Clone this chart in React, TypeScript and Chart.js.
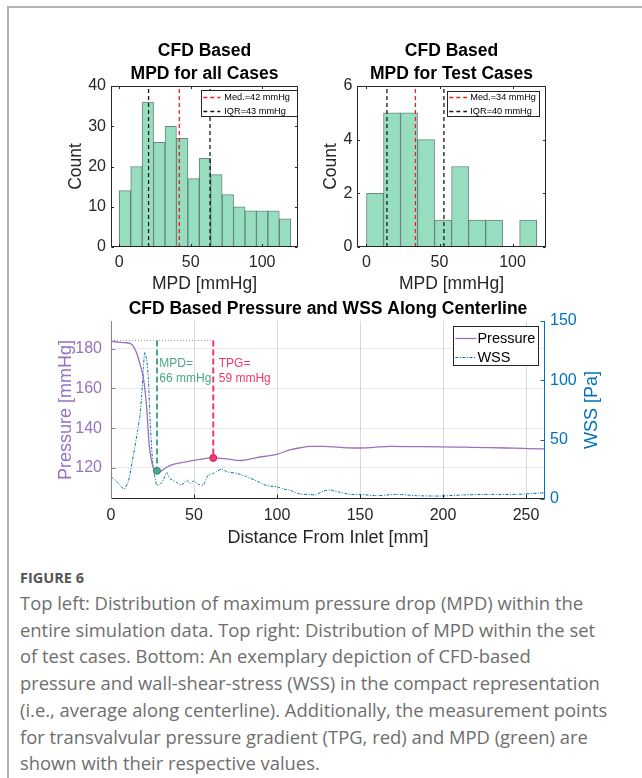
import React, { useEffect, useRef } from "react";
import { Chart, registerables } from "chart.js";

Chart.register(...registerables);

const FONT = "'Liberation Sans', Arial, Helvetica, sans-serif";
Chart.defaults.font.family = FONT;

// ---------- colours ----------
const AXIS_GRAY = "#262626";
const BAR_FILL = "rgb(151,222,192)";
const BAR_EDGE = "rgba(70,105,92,0.8)";
const MED_RED = "rgb(240,30,30)";
const IQR_BLACK = "#1a1a1a";
const PURPLE = "rgb(149,114,194)";
const BLUE = "rgb(0,114,189)";
const GREEN = "rgb(72,167,137)";
const GREEN_DARK = "rgb(50,135,110)";
const PINK = "rgb(240,57,110)";
const PINK_DARK = "rgb(205,35,85)";

// ---------- top-left histogram (all cases) ----------
const allTitle = ["CFD Based", "MPD for all Cases"];
const allBinCenters = [4, 12, 20, 28, 36, 44, 52, 60, 68, 76, 84, 92, 100, 108, 116];
const allCounts = [14, 20, 36, 26, 30, 27, 17, 22, 18, 13, 10, 9, 9, 9, 7];
const allMedian = 42;
const allIqr = [20.5, 63.5];
const allLegend = ["Med.=42 mmHg", "IQR=43 mmHg"];
const allXRange = [-5.8, 125.1];
const allXTicks = [0, 50, 100];
const allYTicks = [0, 10, 20, 30, 40];

// ---------- top-right histogram (test cases) ----------
const testTitle = ["CFD Based", "MPD for Test Cases"];
const testBinCenters = [5.83, 17.48, 29.13, 40.78, 52.43, 64.08, 75.73, 87.38, 99.03, 110.68];
const testCounts = [2, 5, 5, 4, 1, 3, 1, 1, 0, 1];
const testMedian = 33.5;
const testIqr = [14, 53];
const testLegend = ["Med.=34 mmHg", "IQR=40 mmHg"];
const testXRange = [-6.5, 122.9];
const testXTicks = [0, 50, 100];
const testYTicks = [0, 2, 4, 6];

const histXLabel = "MPD [mmHg]";
const histYLabel = "Count";

// ---------- bottom: pressure & WSS along centerline ----------
const lineTitle = "CFD Based Pressure and WSS Along Centerline";
const pressX = [0, 4, 8, 11.4, 13, 14.5, 16, 17.5, 19.5, 21.5, 23, 24.5, 26.5, 28, 29.5, 32.5, 36.5, 43.6, 51.6, 61.6, 69.7, 77.7, 87.8, 99.8, 107.8, 113.9, 119.9, 127.9, 138, 148, 158, 168, 183, 198, 213, 228, 243, 258, 261];
const pressY = [183.8, 183.4, 183.1, 182.7, 181.8, 179.6, 176.5, 172, 165.4, 150.2, 131.6, 123.2, 118.5, 118.2, 118.1, 119.8, 121.5, 122.8, 124, 125, 124.5, 123.7, 125.2, 126.8, 129.1, 130.1, 130.8, 130.8, 130.3, 130, 130.3, 130.8, 130.7, 130.6, 130.4, 130.2, 129.9, 129.6, 129.6];
const wssX = [0, 3.4, 7.8, 10.4, 13.5, 15.9, 17.5, 18.5, 19.5, 20.3, 21.5, 22.5, 23.5, 24.5, 25.5, 27.5, 29.5, 31.5, 33.5, 35.5, 39.6, 42.6, 45.6, 47.6, 49.6, 52.6, 55.6, 58.6, 61.6, 63.6, 66.6, 69.7, 75.7, 81.7, 87.8, 93.8, 99.8, 103.8, 107.8, 109.8, 113.9, 119.9, 122.9, 127.9, 132, 138, 144, 150, 160, 172, 184, 198, 212, 228, 244, 258, 261];
const wssY = [18.8, 14.6, 8.4, 14.6, 37, 56.7, 70.8, 87.7, 110, 123.7, 117, 102, 68, 43, 26, 11.8, 12.4, 16, 22.5, 17.2, 14, 11.8, 16, 13, 15.2, 12.4, 11.8, 20.2, 21.6, 23.1, 25.3, 23, 21.6, 18.8, 15.2, 11.2, 10.4, 8.4, 7.6, 6.2, 4.2, 3.9, 3.4, 6.7, 7.6, 5.6, 3.9, 3.9, 2.8, 3.9, 2.8, 2.5, 3.4, 3.9, 3.9, 5, 5.2];
const inletPressure = 184.2;
const mpdX = 27.7;
const mpdPressure = 118.5;
const tpgX = 61.6;
const tpgPressure = 125;
const mpdText = ["MPD=", "66 mmHg"];
const tpgText = ["TPG=", "59 mmHg"];
const lineSeriesNames = ["Pressure", "WSS"];
const lineXRange = [0, 261.4];
const lineXTicks = [0, 50, 100, 150, 200, 250];
const pressRange = [104.3, 194];
const pressTicks = [120, 140, 160, 180];
const wssRange = [0, 150];
const wssTicks = [0, 50, 100, 150];
const lineXLabel = "Distance From Inlet [mm]";
const pressLabel = "Pressure [mmHg]";
const wssLabel = "WSS [Pa]";

const captionHead = "FIGURE 6";
const captionLines = [
  "Top left: Distribution of maximum pressure drop (MPD) within the",
  "entire simulation data. Top right: Distribution of MPD within the set",
  "of test cases. Bottom: An exemplary depiction of CFD-based",
  "pressure and wall-shear-stress (WSS) in the compact representation",
  "(i.e., average along centerline). Additionally, the measurement points",
  "for transvalvular pressure gradient (TPG, red) and MPD (green) are",
  "shown with their respective values.",
];

// ---------- plugins ----------
const framePlugin = {
  id: "matlabFrame",
  afterDatasetsDraw(chart: any, _a: any, opts: any) {
    const sides = (opts && opts.sides) || [];
    const { ctx, chartArea: a } = chart;
    const L = Math.round(a.left) + 0.5;
    const R = Math.round(a.right) - 0.5;
    const T = Math.round(a.top) + 0.5;
    const B = Math.round(a.bottom) - 0.5;
    ctx.save();
    ctx.setLineDash([]);
    ctx.lineWidth = 1;
    for (const s of sides) {
      const sc = chart.scales[s.scaleId];
      ctx.strokeStyle = s.color;
      ctx.beginPath();
      if (s.pos === "bottom") { ctx.moveTo(L - 0.5, B); ctx.lineTo(R + 0.5, B); }
      if (s.pos === "top") { ctx.moveTo(L - 0.5, T); ctx.lineTo(R + 0.5, T); }
      if (s.pos === "left") { ctx.moveTo(L, T - 0.5); ctx.lineTo(L, B + 0.5); }
      if (s.pos === "right") { ctx.moveTo(R, T - 0.5); ctx.lineTo(R, B + 0.5); }
      for (const t of sc.ticks) {
        const p = Math.round(sc.getPixelForValue(t.value)) + 0.5;
        if (s.pos === "bottom") { ctx.moveTo(p, B); ctx.lineTo(p, B - s.tickLen); }
        if (s.pos === "top") { ctx.moveTo(p, T); ctx.lineTo(p, T + s.tickLen); }
        if (s.pos === "left") { ctx.moveTo(L, p); ctx.lineTo(L + s.tickLen, p); }
        if (s.pos === "right") { ctx.moveTo(R, p); ctx.lineTo(R - s.tickLen, p); }
      }
      ctx.stroke();
    }
    ctx.restore();
  },
};

const notesPlugin = {
  id: "notes",
  afterDatasetsDraw(chart: any, _a: any, o: any) {
    if (!o) return;
    const { ctx, chartArea: a } = chart;
    ctx.save();
    for (const it of o.items || []) {
      const x = chart.scales.x.getPixelForValue(it.x) + it.dx;
      const y = chart.scales[it.yScale].getPixelForValue(it.y);
      ctx.fillStyle = it.color;
      ctx.font = `${o.fontSize}px ${FONT}`;
      ctx.textAlign = "left";
      ctx.textBaseline = "middle";
      it.lines.forEach((ln: string, i: number) => ctx.fillText(ln, x, y + i * o.lineH));
    }
    if (o.sideTitle) {
      const st = o.sideTitle;
      ctx.translate(a.right + st.dx, (a.top + a.bottom) / 2);
      ctx.rotate(-Math.PI / 2);
      ctx.fillStyle = st.color;
      ctx.font = `${st.fontSize}px ${FONT}`;
      ctx.textAlign = "center";
      ctx.textBaseline = "middle";
      ctx.fillText(st.text, 0, 0);
    }
    ctx.restore();
  },
};

const legendPlugin = {
  id: "boxLegend",
  afterDraw(chart: any, _a: any, o: any) {
    if (!o || !o.items) return;
    const { ctx, chartArea: a } = chart;
    const x0 = Math.round(a.right - o.rightInset - o.width);
    const y0 = Math.round(a.top + o.topInset);
    ctx.save();
    ctx.fillStyle = "#fff";
    ctx.fillRect(x0, y0, o.width, o.height);
    ctx.strokeStyle = AXIS_GRAY;
    ctx.lineWidth = 1;
    ctx.setLineDash([]);
    ctx.strokeRect(x0 + 0.5, y0 + 0.5, Math.round(o.width) - 1, Math.round(o.height) - 1);
    ctx.font = `${o.fontSize}px ${FONT}`;
    ctx.textBaseline = "middle";
    ctx.textAlign = "left";
    o.items.forEach((idx: number, i: number) => {
      const ds = chart.data.datasets[idx];
      const cy = Math.round(y0 + o.firstRow + i * o.rowH) + 0.5;
      ctx.strokeStyle = ds.borderColor;
      ctx.lineWidth = ds.borderWidth;
      ctx.setLineDash(ds.borderDash || []);
      ctx.beginPath();
      ctx.moveTo(x0 + o.sampleX, cy);
      ctx.lineTo(x0 + o.sampleX + o.sampleLen, cy);
      ctx.stroke();
      ctx.setLineDash([]);
      ctx.fillStyle = "#000";
      ctx.fillText(ds.label, x0 + o.sampleX + o.sampleLen + o.gap, cy);
    });
    ctx.restore();
  },
};

// ---------- chart builders ----------
type HistCfg = {
  title: string[]; centers: number[]; counts: number[]; median: number; iqr: number[];
  legend: string[]; xRange: number[]; xTicks: number[]; yTicks: number[];
  yAxisWidth: number; padRight: number; yTitlePad: number; yTickPad: number;
  legendBox: any;
};

function makeHist(canvas: HTMLCanvasElement, h: HistCfg) {
  const yMax = h.yTicks[h.yTicks.length - 1];
  const vline = (x: number) => [{ x, y: 0 }, { x, y: yMax }];
  return new Chart(canvas, {
    type: "bar",
    data: {
      datasets: [
        {
          type: "bar", label: "counts",
          data: h.centers.map((c, i) => ({ x: c, y: h.counts[i] })),
          backgroundColor: BAR_FILL, borderColor: BAR_EDGE, borderWidth: 1,
          barPercentage: 1, categoryPercentage: 1, order: 2,
        } as any,
        { type: "line", label: h.legend[0], data: vline(h.median), borderColor: MED_RED, borderWidth: 1.3, borderDash: [4, 3], pointRadius: 0, order: 1 } as any,
        { type: "line", label: h.legend[1], data: vline(h.iqr[0]), borderColor: IQR_BLACK, borderWidth: 1.3, borderDash: [4, 3], pointRadius: 0, order: 1 } as any,
        { type: "line", label: "", data: vline(h.iqr[1]), borderColor: IQR_BLACK, borderWidth: 1.3, borderDash: [4, 3], pointRadius: 0, order: 1 } as any,
      ],
    },
    options: {
      responsive: false, animation: false, devicePixelRatio: 1,
      layout: { padding: { left: 0, right: h.padRight, top: 0, bottom: 0 } },
      plugins: {
        legend: { display: false },
        tooltip: { enabled: false },
        title: {
          display: true, text: h.title, fullSize: false, color: "#000",
          font: { family: FONT, size: 17.5, weight: "bold", lineHeight: 23 / 17.5 },
          padding: { top: 9.5, bottom: 0.5 },
        },
        matlabFrame: {
          sides: [
            { scaleId: "x", pos: "bottom", color: AXIS_GRAY, tickLen: 2.5 },
            { scaleId: "x", pos: "top", color: AXIS_GRAY, tickLen: 2.5 },
            { scaleId: "y", pos: "left", color: AXIS_GRAY, tickLen: 2.5 },
            { scaleId: "y", pos: "right", color: AXIS_GRAY, tickLen: 2.5 },
          ],
        },
        boxLegend: h.legendBox,
      } as any,
      scales: {
        x: {
          type: "linear", min: h.xRange[0], max: h.xRange[1], offset: false,
          grid: { display: false, drawTicks: false, offset: false }, border: { display: false },
          ticks: { color: AXIS_GRAY, font: { size: 16 }, padding: 6.4, maxRotation: 0, autoSkip: false },
          title: { display: true, text: histXLabel, color: AXIS_GRAY, font: { size: 17.5 }, padding: { top: 0, bottom: 5 } },
          afterBuildTicks: (s: any) => { s.ticks = h.xTicks.map((v) => ({ value: v })); },
          afterFit: (s: any) => { s.height = 53; },
        },
        y: {
          type: "linear", min: 0, max: yMax,
          grid: { display: false, drawTicks: false }, border: { display: false },
          ticks: { color: AXIS_GRAY, font: { size: 16 }, padding: h.yTickPad, autoSkip: false },
          title: { display: true, text: histYLabel, color: AXIS_GRAY, font: { size: 17.5 }, padding: { top: h.yTitlePad, bottom: 0 } },
          afterBuildTicks: (s: any) => { s.ticks = h.yTicks.map((v) => ({ value: v })); },
          afterFit: (s: any) => { s.width = h.yAxisWidth; },
        },
      } as any,
    },
    plugins: [framePlugin, legendPlugin],
  } as any);
}

function makeLine(canvas: HTMLCanvasElement) {
  return new Chart(canvas, {
    type: "line",
    data: {
      datasets: [
        {
          label: lineSeriesNames[0], yAxisID: "y",
          data: pressX.map((x, i) => ({ x, y: pressY[i] })),
          borderColor: PURPLE, borderWidth: 1.3, pointRadius: 0, cubicInterpolationMode: "monotone", order: 1,
        },
        {
          label: lineSeriesNames[1], yAxisID: "y1",
          data: wssX.map((x, i) => ({ x, y: wssY[i] })),
          borderColor: BLUE, borderWidth: 1, borderDash: [3, 1.5, 1, 1.5], pointRadius: 0, tension: 0.2, order: 2,
        },
        {
          label: "ref", yAxisID: "y",
          data: [{ x: 0, y: inletPressure }, { x: tpgX, y: inletPressure }],
          borderColor: "#9a9a9a", borderWidth: 1, borderDash: [1, 2], pointRadius: 0, order: 3,
        },
        {
          label: "mpd", yAxisID: "y",
          data: [{ x: mpdX, y: inletPressure }, { x: mpdX, y: mpdPressure }],
          borderColor: GREEN, borderWidth: 2, borderDash: [6, 3], pointRadius: [0, 3.5],
          pointBackgroundColor: GREEN, pointBorderColor: GREEN_DARK, pointBorderWidth: 1, order: 0,
        },
        {
          label: "tpg", yAxisID: "y",
          data: [{ x: tpgX, y: inletPressure }, { x: tpgX, y: tpgPressure }],
          borderColor: PINK, borderWidth: 2, borderDash: [6, 3], pointRadius: [0, 3.5],
          pointBackgroundColor: PINK, pointBorderColor: PINK_DARK, pointBorderWidth: 1, order: 0,
        },
      ] as any,
    },
    options: {
      responsive: false, animation: false, devicePixelRatio: 1,
      layout: { padding: 0 },
      plugins: {
        legend: { display: false },
        tooltip: { enabled: false },
        title: {
          display: true, text: lineTitle, fullSize: false, color: "#000",
          font: { family: FONT, size: 17.5, weight: "bold", lineHeight: 1.2 },
          padding: { top: 8.5, bottom: 1.5 },
        },
        matlabFrame: {
          sides: [
            { scaleId: "x", pos: "bottom", color: AXIS_GRAY, tickLen: 4 },
            { scaleId: "y", pos: "left", color: PURPLE, tickLen: 4 },
            { scaleId: "y1", pos: "right", color: BLUE, tickLen: 4 },
          ],
        },
        boxLegend: {
          items: [0, 1], rightInset: 5.7, topInset: 5, width: 86, height: 40,
          firstRow: 11.7, rowH: 19, sampleX: 2.4, sampleLen: 21, gap: 1, fontSize: 14.5,
        },
        notes: {
          fontSize: 12, lineH: 15.3,
          items: [
            { x: mpdX, dx: 2.3, y: 172.6, yScale: "y", lines: mpdText, color: GREEN },
            { x: tpgX, dx: 5.5, y: 172.6, yScale: "y", lines: tpgText, color: PINK },
          ],
          sideTitle: { text: wssLabel, dx: 46.7, color: BLUE, fontSize: 18 },
        },
      } as any,
      scales: {
        x: {
          type: "linear", min: lineXRange[0], max: lineXRange[1],
          grid: { color: "rgba(0,0,0,0.15)", drawTicks: false }, border: { display: false },
          ticks: { color: AXIS_GRAY, font: { size: 16 }, padding: 7.4, maxRotation: 0, autoSkip: false },
          title: { display: true, text: lineXLabel, color: AXIS_GRAY, font: { size: 18 }, padding: { top: 0, bottom: 1.2 } },
          afterBuildTicks: (s: any) => { s.ticks = lineXTicks.map((v) => ({ value: v })); },
          afterFit: (s: any) => { s.height = 51; },
        },
        y: {
          type: "linear", position: "left", min: pressRange[0], max: pressRange[1],
          grid: { color: "rgba(149,114,194,0.16)", drawTicks: false }, border: { display: false },
          ticks: { color: PURPLE, font: { size: 16 }, padding: 9, autoSkip: false },
          title: { display: true, text: pressLabel, color: PURPLE, font: { size: 18 }, padding: { top: 15.7, bottom: 0 } },
          afterBuildTicks: (s: any) => { s.ticks = pressTicks.map((v) => ({ value: v })); },
          afterFit: (s: any) => { s.width = 71; },
        },
        y1: {
          type: "linear", position: "right", min: wssRange[0], max: wssRange[1],
          grid: { display: false, drawTicks: false }, border: { display: false },
          ticks: { color: BLUE, font: { size: 16 }, padding: 5, autoSkip: false },
          title: { display: false },
          afterBuildTicks: (s: any) => { s.ticks = wssTicks.map((v) => ({ value: v })); },
          afterFit: (s: any) => { s.width = 75; },
        },
      } as any,
    },
    plugins: [framePlugin, notesPlugin, legendPlugin],
  } as any);
}

const HIST_ALL: HistCfg = {
  title: allTitle, centers: allBinCenters, counts: allCounts, median: allMedian, iqr: allIqr,
  legend: allLegend, xRange: allXRange, xTicks: allXTicks, yTicks: allYTicks,
  yAxisWidth: 71, padRight: 17, yTitlePad: 25.5, yTickPad: 5,
  legendBox: { items: [1, 2], rightInset: 0, topInset: 4, width: 97, height: 27, firstRow: 7.3, rowH: 13.7, sampleX: 2.3, sampleLen: 17, gap: 4, fontSize: 9.2 },
};

const HIST_TEST: HistCfg = {
  title: testTitle, centers: testBinCenters, counts: testCounts, median: testMedian, iqr: testIqr,
  legend: testLegend, xRange: testXRange, xTicks: testXTicks, yTicks: testYTicks,
  yAxisWidth: 67, padRight: 19, yTitlePad: 31, yTickPad: 4.5,
  legendBox: { items: [1, 2], rightInset: 5.7, topInset: 5, width: 93, height: 26, firstRow: 6.3, rowH: 13.7, sampleX: 2.3, sampleLen: 17.7, gap: 3.3, fontSize: 9.2 },
};

export default function App() {
  const r1 = useRef<HTMLCanvasElement>(null);
  const r2 = useRef<HTMLCanvasElement>(null);
  const r3 = useRef<HTMLCanvasElement>(null);

  useEffect(() => {
    const charts = [
      makeHist(r1.current!, HIST_ALL),
      makeHist(r2.current!, HIST_TEST),
      makeLine(r3.current!),
    ];
    return () => charts.forEach((c) => c.destroy());
  }, []);

  const abs = (l: number, t: number, w: number, h: number): React.CSSProperties => ({
    position: "absolute", left: l, top: t, width: w, height: h,
  });

  return (
    <div style={{ position: "absolute", left: 0, top: 0, width: 642, height: 778, background: "#fff", overflow: "hidden" }}>
      <div style={{ position: "absolute", left: 7, top: 6, right: 0, bottom: 0, borderLeft: "2px solid #b4b4b4", borderTop: "2px solid #b4b4b4" }} />
      <canvas ref={r1} width={275} height={270} style={abs(40, 30, 275, 270)} />
      <canvas ref={r2} width={275} height={270} style={abs(290, 30, 275, 270)} />
      <canvas ref={r3} width={580} height={260} style={abs(40, 290, 580, 260)} />
      <div style={{ position: "absolute", left: 20, top: 568, lineHeight: "20px", fontFamily: "'Open Sans', 'Noto Sans', sans-serif", fontWeight: 700, fontSize: 14.5, color: "#555", whiteSpace: "nowrap" }}>
        {captionHead}
      </div>
      <div style={{ position: "absolute", left: 20, top: 590, lineHeight: "26.7px", fontFamily: "'Open Sans', 'Noto Sans', sans-serif", fontSize: 18.4, color: "#6e6e6e", whiteSpace: "nowrap" }}>
        {captionLines.map((ln, i) => (
          <div key={i}>{ln}</div>
        ))}
      </div>
    </div>
  );
}
